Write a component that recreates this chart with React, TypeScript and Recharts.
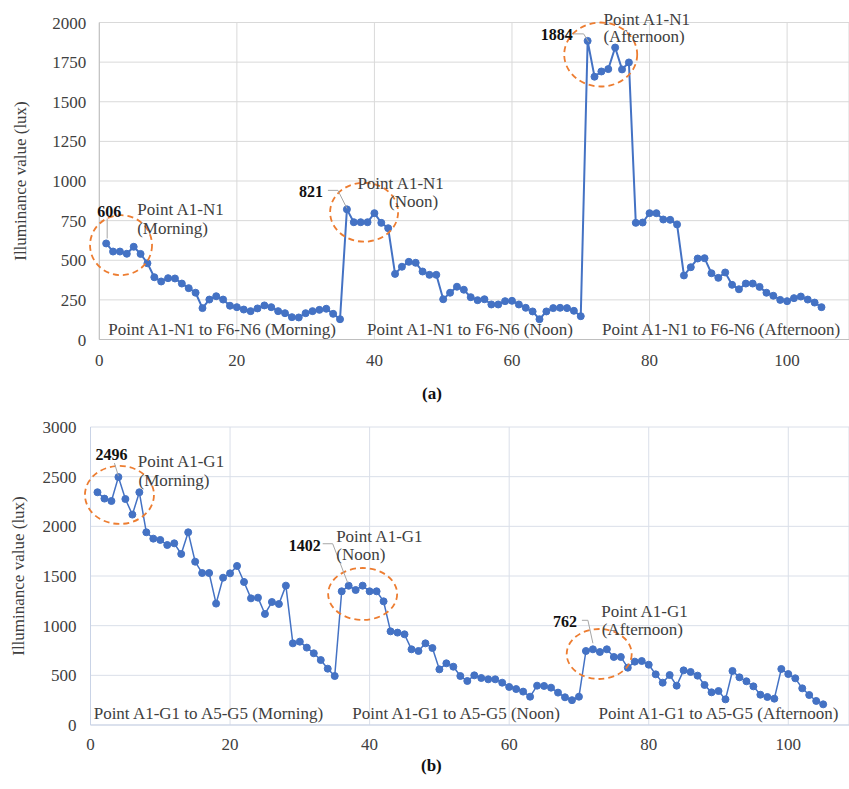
import React from 'react'
import { LineChart, Line, XAxis, YAxis, CartesianGrid, ReferenceDot, Label } from 'recharts'

// measuring point number, 1..105 (35 points per session)
const pointNo = Array.from({ length: 105 }, (_, i) => i + 1)

// (a) points A1-N1 .. F6-N6, morning / noon / afternoon
const luxA = [
  606, 555, 555, 541, 585, 540, 481, 393, 366, 387, 385, 353, 324, 295, 198, 252, 273, 252, 213, 204,
  189, 179, 196, 215, 204, 179, 166, 141, 139, 166, 179, 187, 194, 162, 128,
  821, 740, 740, 740, 797, 736, 702, 414, 459, 490, 484, 429, 408, 408, 254, 295, 333, 314, 267, 248,
  254, 221, 221, 242, 244, 221, 200, 177, 128, 177, 198, 200, 198, 181, 147,
  1884, 1658, 1691, 1706, 1842, 1704, 1748, 736, 738, 797, 797, 757, 755, 726, 404, 456, 511, 513, 418, 389,
  423, 345, 317, 353, 353, 332, 295, 276, 250, 242, 261, 271, 252, 233, 204,
]

// (b) points A1-G1 .. A5-G5, morning / noon / afternoon
const luxB = [
  2343, 2279, 2255, 2496, 2275, 2118, 2343, 1940, 1876, 1863, 1812, 1829, 1722, 1940, 1644, 1530, 1530, 1222, 1483, 1527,
  1601, 1440, 1275, 1282, 1118, 1238, 1218, 1403, 822, 839, 779, 722, 654, 567, 493,
  1346, 1402, 1359, 1403, 1346, 1346, 1245, 943, 930, 913, 762, 745, 822, 775, 560, 621, 587, 493, 443, 500,
  473, 460, 460, 426, 383, 362, 336, 285, 396, 393, 376, 326, 279, 250, 285,
  745, 762, 735, 762, 685, 685, 577, 638, 644, 607, 510, 426, 503, 396, 550, 534, 497, 403, 329, 342,
  258, 544, 480, 440, 389, 305, 282, 265, 564, 513, 470, 369, 302, 242, 208,
]

const xTicks = [0, 20, 40, 60, 80, 100]
const yTicksA = [0, 250, 500, 750, 1000, 1250, 1500, 1750, 2000]
const yTicksB = [0, 500, 1000, 1500, 2000, 2500, 3000]

const dataA = pointNo.map((p, i) => ({ point: p, lux: luxA[i] }))
const dataB = pointNo.map((p, i) => ({ point: p, lux: luxB[i] }))

const FONT = '"Liberation Serif", "Times New Roman", serif'
const BLUE = '#4472C4'
const ORANGE = '#ED7D31'
const TEXT = '#404040'

const ellipse = (rx: number, ry: number) => (p: any) => (
  <ellipse cx={p.cx} cy={p.cy} rx={rx} ry={ry} fill="none" stroke={ORANGE}
    strokeWidth={1.8} strokeDasharray="6 4" />
)

const label = (text: string) => (p: any) => (
  <text x={p.cx} y={p.cy} textAnchor="middle" fontSize={17} fill={TEXT} fontFamily={FONT}>{text}</text>
)

const callout = (text: string, tx: number, ty: number, path: number[][]) => (p: any) => (
  <g>
    <polyline points={path.map(([dx, dy]) => `${p.cx + dx},${p.cy + dy}`).join(' ')}
      fill="none" stroke="#a6a6a6" strokeWidth={1} />
    <text x={p.cx + tx} y={p.cy + ty} textAnchor="middle" fontSize={16} fontWeight={700}
      fill="#111" fontFamily={FONT}>{text}</text>
  </g>
)

const yTitle = (x: number) => (props: any) => {
  const vb = props.viewBox
  const cy = vb.y + vb.height / 2
  return (
    <text x={x} y={cy} transform={`rotate(-90 ${x} ${cy})`} textAnchor="middle"
      dominantBaseline="central" fontSize={17} fill={TEXT} fontFamily={FONT}>
      Illuminance value (lux)
    </text>
  )
}

const tick = { fontSize: 17, fill: TEXT, fontFamily: FONT }

export default function App() {
  return (
    <div style={{ position: 'absolute', left: 0, top: 0, width: 849, height: 789, background: '#fff', fontFamily: FONT }}>
      <div style={{ position: 'absolute', left: 0, top: 0 }}>
        <LineChart width={849} height={390} data={dataA} margin={{ top: 22.5, right: 0, bottom: 20.5, left: 0 }}>
          <CartesianGrid stroke="#d9d9d9" strokeWidth={1} />
          <XAxis dataKey="point" type="number" domain={[0, 109]} ticks={xTicks} allowDataOverflow
            tickLine={false} axisLine={{ stroke: '#bfbfbf' }} tick={tick} tickMargin={8} height={30} />
          <YAxis type="number" domain={[0, 2000]} ticks={yTicksA} width={99.3}
            tickLine={false} axisLine={{ stroke: '#bfbfbf' }} tick={tick} tickMargin={7}>
            <Label content={yTitle(20)} />
          </YAxis>
          <Line dataKey="lux" stroke={BLUE} strokeWidth={2} isAnimationActive={false}
            dot={{ r: 3.5, fill: BLUE, stroke: BLUE, strokeWidth: 1 }} />

          <ReferenceDot x={3.16} y={595} ifOverflow="visible" shape={ellipse(31, 30)} />
          <ReferenceDot x={38.5} y={803} ifOverflow="visible" shape={ellipse(34, 29.5)} />
          <ReferenceDot x={72.9} y={1798} ifOverflow="visible" shape={ellipse(36.5, 32)} />

          <ReferenceDot x={1} y={606} ifOverflow="visible" shape={callout('606', 3, -26, [[1, -25], [1, -5]])} />
          <ReferenceDot x={36} y={821} ifOverflow="visible" shape={callout('821', -36, -12, [[-19, -19], [-9, -19], [0, -1]])} />
          <ReferenceDot x={71} y={1884} ifOverflow="visible" shape={callout('1884', -31, -1, [[-14, -7], [-4, -7], [1, 1]])} />

          <ReferenceDot x={11.81} y={784} ifOverflow="visible" shape={label('Point A1-N1')} />
          <ReferenceDot x={10.65} y={665} ifOverflow="visible" shape={label('(Morning)')} />
          <ReferenceDot x={43.81} y={948} ifOverflow="visible" shape={label('Point A1-N1')} />
          <ReferenceDot x={45.7} y={835} ifOverflow="visible" shape={label('(Noon)')} />
          <ReferenceDot x={79.6} y={1987} ifOverflow="visible" shape={label('Point A1-N1')} />
          <ReferenceDot x={79.2} y={1874} ifOverflow="visible" shape={label('(Afternoon)')} />

          <ReferenceDot x={17.85} y={28} ifOverflow="visible" shape={label('Point A1-N1 to F6-N6 (Morning)')} />
          <ReferenceDot x={53.9} y={28} ifOverflow="visible" shape={label('Point A1-N1 to F6-N6 (Noon)')} />
          <ReferenceDot x={90.4} y={28} ifOverflow="visible" shape={label('Point A1-N1 to F6-N6 (Afternoon)')} />
        </LineChart>
      </div>
      <div style={{ position: 'absolute', left: 422, top: 384, fontSize: 17, fontWeight: 700, color: '#111' }}>(a)</div>

      <div style={{ position: 'absolute', left: 0, top: 400 }}>
        <LineChart width={849} height={389} data={dataB} margin={{ top: 27, right: 0, bottom: 34, left: 0 }}>
          <CartesianGrid stroke="#dadfe9" strokeWidth={1} />
          <XAxis dataKey="point" type="number" domain={[0, 108.7]} ticks={xTicks} allowDataOverflow
            tickLine={false} axisLine={{ stroke: '#c9d3e6' }} tick={tick} tickMargin={7} height={30} />
          <YAxis type="number" domain={[0, 3000]} ticks={yTicksB} width={90.5}
            tickLine={false} axisLine={{ stroke: '#c9d3e6' }} tick={tick} tickMargin={8}>
            <Label content={yTitle(18)} />
          </YAxis>
          <Line dataKey="lux" stroke={BLUE} strokeWidth={1.5} isAnimationActive={false}
            dot={{ r: 3.5, fill: BLUE, stroke: BLUE, strokeWidth: 1 }} />

          <ReferenceDot x={4.15} y={2316} ifOverflow="visible" shape={ellipse(34.5, 29)} />
          <ReferenceDot x={39.0} y={1319} ifOverflow="visible" shape={ellipse(34.5, 26)} />
          <ReferenceDot x={72.9} y={715} ifOverflow="visible" shape={ellipse(32.5, 25)} />

          <ReferenceDot x={4} y={2496} ifOverflow="visible" shape={callout('2496', -7, -17, [[-4, -14], [0, -1]])} />
          <ReferenceDot x={37} y={1402} ifOverflow="visible" shape={callout('1402', -44, -35, [[-26, -42], [-16, -42], [-1, -3]])} />
          <ReferenceDot x={72} y={762} ifOverflow="visible" shape={callout('762', -28, -22, [[-11, -29], [-5, -29], [0, -6]])} />

          <ReferenceDot x={12.96} y={2597} ifOverflow="visible" shape={label('Point A1-G1')} />
          <ReferenceDot x={11.96} y={2406} ifOverflow="visible" shape={label('(Morning)')} />
          <ReferenceDot x={41.4} y={1842} ifOverflow="visible" shape={label('Point A1-G1')} />
          <ReferenceDot x={38.75} y={1661} ifOverflow="visible" shape={label('(Noon)')} />
          <ReferenceDot x={79.4} y={1087} ifOverflow="visible" shape={label('Point A1-G1')} />
          <ReferenceDot x={79.1} y={906} ifOverflow="visible" shape={label('(Afternoon)')} />

          <ReferenceDot x={16.9} y={60} ifOverflow="visible" shape={label('Point A1-G1 to A5-G5 (Morning)')} />
          <ReferenceDot x={52.4} y={60} ifOverflow="visible" shape={label('Point A1-G1 to A5-G5 (Noon)')} />
          <ReferenceDot x={90.0} y={60} ifOverflow="visible" shape={label('Point A1-G1 to A5-G5 (Afternoon)')} />
        </LineChart>
      </div>
      <div style={{ position: 'absolute', left: 421, top: 756, fontSize: 17, fontWeight: 700, color: '#111' }}>(b)</div>
    </div>
  )
}
